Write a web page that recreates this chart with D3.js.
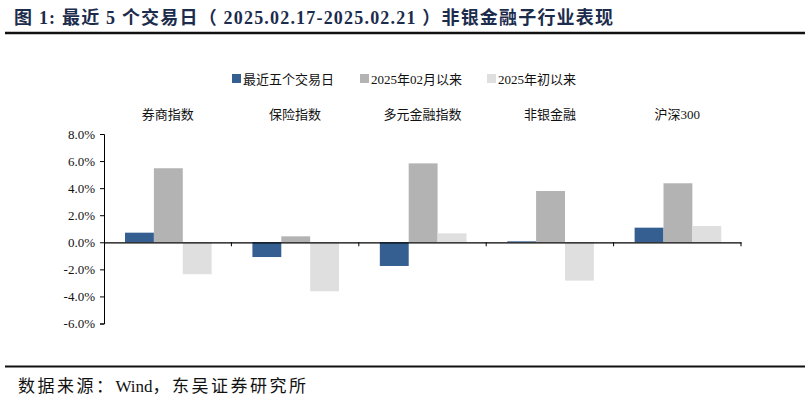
<!DOCTYPE html>
<html><head><meta charset="utf-8">
<script src="https://cdn.jsdelivr.net/npm/d3@7"></script>
<style>body{margin:0;background:#fff}svg{display:block}</style>
</head><body><svg id="c" width="810" height="408"></svg>
<script>
const categories = ["券商指数","保险指数","多元金融指数","非银金融","沪深300"];
const seriesNames = ["最近五个交易日","2025年02月以来","2025年初以来"];
const recent5 = [0.71, -1.09, -1.75, 0.07, 1.08];
const sinceFeb = [5.47, 0.44, 5.83, 3.79, 4.36];
const sinceYear = [-2.36, -3.62, 0.66, -2.83, 1.20];
const yTicks = [8,6,4,2,0,-2,-4,-6];
const colors = ["#355e91","#b3b3b3","#dfdfdf"];

const serif = "'Liberation Serif','Times New Roman','Noto Sans CJK SC',serif";
const svg = d3.select("#c");
const series = [recent5, sinceFeb, sinceYear];

// title
svg.append("text").attr("x",14).attr("y",24).attr("font-family",serif).attr("font-weight","bold")
  .attr("font-size",18).attr("fill","#1c2c4c")
  .attr("textLength",599).attr("lengthAdjust","spacing")
  .text("图 1:  最近 5 个交易日（ 2025.02.17-2025.02.21 ）非银金融子行业表现");
svg.append("line").attr("x1",5).attr("x2",805).attr("y1",33).attr("y2",33).attr("stroke","#111").attr("stroke-width",2.5);
svg.append("line").attr("x1",5).attr("x2",805).attr("y1",366.5).attr("y2",366.5).attr("stroke","#111").attr("stroke-width",2);
const src = svg.append("text").attr("x",18).attr("y",392).attr("font-family",serif).attr("font-size",17).attr("fill","#111");
src.append("tspan").attr("letter-spacing",2.5).text("数据来源：");
src.append("tspan").text("Wind");
src.append("tspan").attr("letter-spacing",2.5).text("，东吴证券研究所");

const left=104, right=741;
const y = d3.scaleLinear().domain([-6,8]).range([323.5,134]);
const x0 = d3.scaleBand().domain(categories).range([left,right]).padding(0);
const x1 = d3.scaleBand().domain(d3.range(3)).range([x0.bandwidth()*0.165, x0.bandwidth()*0.845]).padding(0);

// bars
const g = svg.append("g");
categories.forEach((c,i)=>{
  series.forEach((s,j)=>{
    const v = s[i];
    g.append("rect").attr("x",x0(c)+x1(j)).attr("width",x1.bandwidth())
      .attr("y",y(Math.max(0,v))).attr("height",Math.abs(y(v)-y(0)))
      .attr("fill",colors[j]);
  });
});

// y axis
const ya = svg.append("g").attr("transform",`translate(${left},0)`)
  .call(d3.axisLeft(y).tickValues(yTicks).tickSize(4).tickFormat(d=>d.toFixed(1)+"%"));
ya.select(".domain").attr("stroke","#000");
ya.selectAll(".tick line").attr("stroke","#000");
ya.selectAll("text").attr("font-family",serif).attr("font-size",13).attr("fill","#111").attr("dx",-2);

// x axis at zero
const xa = svg.append("g").attr("transform",`translate(0,${y(0)})`)
  .call(d3.axisBottom(x0).tickSize(0).tickFormat(""));
xa.select(".domain").attr("stroke","#000").attr("stroke-width",1.3);
categories.forEach(c=>{
  svg.append("line").attr("x1",x0(c)+x0.bandwidth()).attr("x2",x0(c)+x0.bandwidth())
    .attr("y1",y(0)).attr("y2",y(0)+4).attr("stroke","#000");
});

// category labels
svg.selectAll("text.cat").data(categories).enter().append("text").attr("class","cat")
  .attr("x",d=>x0(d)+x0.bandwidth()/2).attr("y",119).attr("text-anchor","middle")
  .attr("font-family",serif).attr("font-size",13).attr("fill","#111").text(d=>d);

// legend
const legX = [232, 360, 487];
seriesNames.forEach((n,j)=>{
  svg.append("rect").attr("x",legX[j]).attr("y",74).attr("width",9).attr("height",9).attr("fill",colors[j]);
  svg.append("text").attr("x",legX[j]+11).attr("y",83.5).attr("font-family",serif).attr("font-size",13)
    .attr("fill","#111").text(n);
});
</script></body></html>
